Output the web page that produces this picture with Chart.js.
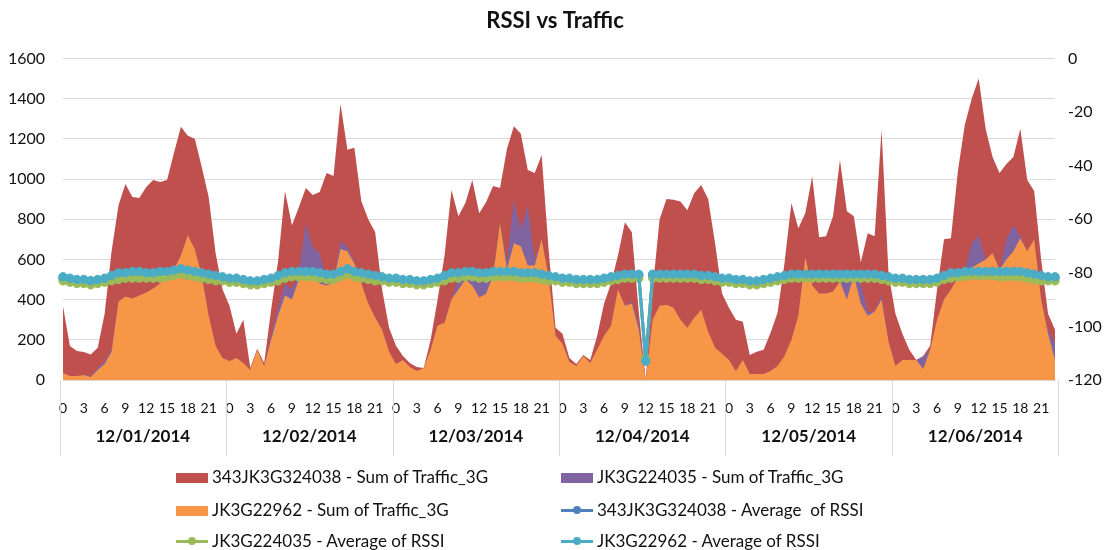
<!DOCTYPE html>
<html>
<head>
<meta charset="utf-8">
<title>RSSI vs Traffic</title>
<script src="https://cdn.jsdelivr.net/npm/chart.js@4.4.1/dist/chart.umd.min.js"></script>
<style>
    html, body { margin: 0; padding: 0; background: #fff; }
    #wrap { position: relative; width: 1110px; height: 550px; overflow: hidden; font-family: Lato, "Open Sans", sans-serif; }
    #rssiChart { position: absolute; left: 0; top: 0; }
    .lg-item { position: absolute; height: 30px; line-height: 30px; font-size: 17px; color: #111; white-space: nowrap; }
    .lg-box { display: inline-block; width: 32px; height: 10px; vertical-align: middle; margin-right: 4px; position: relative; top: -1px; }
    .lg-line { display: inline-block; width: 32px; height: 3px; vertical-align: middle; margin-right: 4px; position: relative; top: -1px; }
    .lg-line span { position: absolute; left: 12px; top: -3px; width: 8px; height: 8px; border-radius: 50%; }
</style>
</head>
<body>
<div id="wrap">
    <canvas id="rssiChart" width="1110" height="550"></canvas>
    <div id="legend"></div>
</div>
<script>
// Category axis
var dayLabels = ['12/01/2014', '12/02/2014', '12/03/2014', '12/04/2014', '12/05/2014', '12/06/2014'];
var hourLabels = [0, 1, 2, 3, 4, 5, 6, 7, 8, 9, 10, 11, 12, 13, 14, 15, 16, 17, 18, 19, 20, 21, 22, 23];

// Sum of Traffic_3G, one value per hour (6 days x 24 hours)
var traffic343JK3G324038 = [
    332, 149, 124, 114, 107, 100, 235, 490, 480, 560, 505, 485, 525, 540, 505, 480, 580, 640, 495, 550, 540, 590, 460, 340,
    275, 120, 215, 10, 5, 15, 130, 230, 460, 320, 330, 175, 260, 305, 530, 515, 685, 485, 565, 410, 420, 425, 200, 120,
    90, 20, 20, 20, 0, 50, 130, 335, 545, 305, 340, 455, 310, 375, 435, 175, 560, 367, 475, 180, 430, 420, 140, 40,
    50, 20, 10, 5, 15, 70, 160, 210, 170, 415, 345, 60, 0, 150, 430, 525, 537, 588, 585, 620, 620, 660, 520, 300,
    260, 255, 190, 95, 110, 120, 190, 265, 460, 680, 435, 220, 542, 280, 285, 375, 605, 350, 295, 105, 390, 375, 825, 340,
    260, 130, 50, 0, 5, 20, 150, 300, 255, 530, 730, 720, 780, 650, 480, 480, 375, 340, 535, 355, 240, 200, 80, 70
];
var trafficJK3G224035 = [
    0, 0, 0, 0, 5, 10, 15, 10, 0, 0, 0, 0, 0, 0, 0, 0, 0, 0, 0, 0, 0, 0, 0, 0,
    0, 0, 0, 0, 0, 0, 20, 40, 60, 50, 30, 260, 150, 150, 30, 10, 40, 20, 10, 0, 0, 0, 0, 0,
    0, 0, 0, 0, 0, 0, 0, 0, 0, 60, 40, 70, 110, 80, 10, 0, 40, 215, 85, 295, 30, 0, 0, 0,
    0, 0, 0, 0, 0, 0, 0, 0, 0, 0, 10, 30, 0, 0, 0, 0, 0, 0, 0, 0, 0, 0, 0, 0,
    0, 0, 0, 0, 0, 0, 0, 0, 0, 0, 0, 0, 0, 0, 0, 0, 0, 90, 0, 100, 20, 0, 20, 0,
    0, 0, 0, 0, 60, 0, 0, 0, 0, 0, 0, 120, 140, 0, 0, 0, 100, 130, 10, 0, 0, 0, 20, 80
];
var trafficJK3G22962 = [
    35, 20, 20, 25, 15, 50, 80, 140, 390, 415, 405, 420, 435, 455, 480, 515, 550, 620, 720, 650, 520, 320, 170, 110,
    95, 110, 85, 50, 150, 70, 200, 320, 420, 400, 500, 520, 510, 480, 470, 490, 650, 640, 580, 480, 380, 310, 250, 140,
    80, 100, 65, 45, 60, 150, 270, 285, 400, 450, 500, 470, 410, 430, 520, 780, 550, 680, 665, 570, 570, 700, 510, 220,
    180, 90, 70, 120, 85, 150, 220, 270, 450, 370, 380, 250, 0, 300, 370, 375, 360, 300, 260, 310, 350, 240, 160, 130,
    100, 45, 100, 30, 30, 30, 45, 70, 120, 200, 320, 610, 470, 430, 430, 440, 490, 400, 520, 380, 320, 340, 400, 190,
    70, 100, 100, 100, 55, 150, 300, 400, 450, 510, 540, 560, 580, 600, 630, 550, 600, 640, 705, 640, 700, 400, 230, 100
];

// Average of RSSI
var rssi343JK3G324038 = [
    -82, -82.5, -83, -83, -83, -83, -82.5, -81.5, -80.5, -80.5, -80, -80, -80.5, -80.5, -80, -80, -79.5, -79, -79.5, -80, -80.5, -81, -81.5, -82,
    -82.5, -82.5, -83, -83.5, -83.5, -83, -82.5, -81.5, -80.5, -80, -80, -80, -80, -80.5, -81, -81, -80, -79, -80, -80.5, -81, -81.5, -82, -82.5,
    -82.5, -83, -83, -83.5, -83.5, -83, -82.5, -81.5, -80.5, -80.5, -80, -80, -80.5, -80.5, -80, -80, -80, -80, -80.5, -80.5, -80.5, -81, -81.5, -82,
    -82.5, -82.5, -83, -83, -83, -83, -82.5, -82, -81.5, -81, -81, -81, -112, -81, -81, -81, -81, -81, -81, -81, -81.5, -81.5, -82, -82.5,
    -82.5, -83, -83, -83.5, -83.5, -83, -82.5, -82, -81.5, -81, -81, -81, -81, -81, -81, -81, -81, -81, -81, -81, -81, -81, -81.5, -82,
    -82.5, -82.5, -83, -83, -83, -83, -82.5, -81.5, -80.5, -80.5, -80, -80, -80, -80, -80, -80, -80, -80, -80, -80.5, -81, -81.5, -82, -82
];
var rssiJK3G224035 = [
    -83, -83.5, -84, -84, -84.5, -84, -83.5, -83, -82.5, -82, -82, -82, -82, -82, -82, -81.5, -81, -80.5, -81, -81.5, -82, -82.5, -83, -83,
    -83.5, -83.5, -84, -84.5, -84.5, -84, -83.5, -83, -82, -81.5, -81.5, -81.5, -81.5, -82, -82.5, -82.5, -81.5, -80.5, -81.5, -82, -82.5, -83, -83, -83.5,
    -83.5, -84, -84, -84.5, -84.5, -84, -83.5, -83, -82, -82, -81.5, -81.5, -82, -82, -81.5, -81.5, -81.5, -81.5, -82, -82, -82, -82.5, -83, -83,
    -83.5, -83.5, -84, -84, -84, -84, -83.5, -83, -82.5, -82, -82, -82, -112, -82, -82, -82, -82, -82, -82, -82, -82.5, -82.5, -83, -83.5,
    -83.5, -84, -84, -84.5, -84.5, -84, -83.5, -83, -82.5, -82, -82, -82, -82, -82, -82, -82, -82, -82, -82, -82, -82, -82, -82.5, -83,
    -83.5, -83.5, -84, -84, -84, -84, -83.5, -82.5, -82, -81.5, -81.5, -81, -81, -81, -81, -81.5, -81.5, -81.5, -81.5, -82, -82.5, -83, -83, -83
];
var rssiJK3G22962 = [
    -81.5, -82, -82.5, -82.5, -83, -82.5, -82, -81, -80, -80, -79.5, -79.5, -80, -80, -79.5, -79.5, -79, -78.5, -79, -79.5, -80, -80.5, -81, -81.5,
    -82, -82, -82.5, -83, -83, -82.5, -82, -81, -80, -79.5, -79.5, -79.5, -79.5, -80, -80.5, -80.5, -79.5, -78.5, -79.5, -80, -80.5, -81, -81.5, -82,
    -82, -82.5, -82.5, -83, -83, -82.5, -82, -81, -80, -80, -79.5, -79.5, -80, -80, -79.5, -79.5, -79.5, -79.5, -80, -80, -80, -80.5, -81, -81.5,
    -82, -82, -82.5, -82.5, -82.5, -82.5, -82, -81.5, -81, -80.5, -80.5, -80.5, -113, -80.5, -80.5, -80.5, -80.5, -80.5, -80.5, -80.5, -81, -81, -81.5, -82,
    -82, -82.5, -82.5, -83, -83, -82.5, -82, -81.5, -81, -80.5, -80.5, -80.5, -80.5, -80.5, -80.5, -80.5, -80.5, -80.5, -80.5, -80.5, -80.5, -80.5, -81, -81.5,
    -82, -82, -82.5, -82.5, -82.5, -82.5, -82, -81, -80, -80, -79.5, -79.5, -79.5, -79.5, -79.5, -79.5, -79.5, -79.5, -79.5, -80, -80.5, -81, -81.5, -81.5
];

// Colours (Office palette)
var C_RED = '#c0504d', C_PURPLE = '#8064a2', C_ORANGE = '#f79646';
var C_BLUE = '#4f81bd', C_GREEN = '#9bbb59', C_CYAN = '#4bacc6';
var FONT = 'Lato';
var TEXT = '#111';

// one category per hour, days one after another
var categories = [];
dayLabels.forEach(function () {
    hourLabels.forEach(function (h) { categories.push(h); });
});

function areaSet(label, data, color) {
    return {
        type: 'line', label: label, data: data, yAxisID: 'y',
        fill: 'origin', backgroundColor: color, borderColor: color,
        borderWidth: 0, pointRadius: 0, tension: 0
    };
}
function rssiSet(label, data, color) {
    return {
        type: 'line', label: label, data: data, yAxisID: 'y1',
        fill: false, borderColor: color, backgroundColor: color,
        borderWidth: 3, pointRadius: 4.2, pointBorderWidth: 1,
        pointBackgroundColor: color, pointBorderColor: color, tension: 0
    };
}

// plain numbers on the value axes (no thousands separator)
function plainTick(value) { return String(value); }

// Draw the day row and its separators under the hour ticks
var dayAxisPlugin = {
    id: 'dayAxis',
    afterDraw: function (chart) {
        var ctx = chart.ctx;
        var xs = chart.scales.x;
        var bottom = chart.chartArea.bottom;
        var step = xs.getPixelForValue(1) - xs.getPixelForValue(0);
        ctx.save();
        ctx.strokeStyle = '#d9d9d9';
        ctx.lineWidth = 1;
        for (var d = 0; d <= dayLabels.length; d++) {
            var sx = Math.round(xs.getPixelForValue(d * 24) - step / 2) + 0.5;
            ctx.beginPath();
            ctx.moveTo(sx, bottom);
            ctx.lineTo(sx, bottom + 76);
            ctx.stroke();
        }
        ctx.fillStyle = TEXT;
        ctx.font = 'bold 17px ' + FONT;
        ctx.textAlign = 'center';
        ctx.textBaseline = 'middle';
        dayLabels.forEach(function (lbl, d) {
            var cx = (xs.getPixelForValue(d * 24) + xs.getPixelForValue(d * 24 + 23)) / 2;
            ctx.fillText(lbl, cx, bottom + 57);
        });
        ctx.restore();
    }
};

var ctx = document.getElementById('rssiChart').getContext('2d');
var rssiChart = new Chart(ctx, {
    type: 'line',
    data: {
        labels: categories,
        // lines first so they sit on top; orange is the bottom of the stack
        datasets: [
            rssiSet('JK3G22962 - Average of RSSI', rssiJK3G22962, C_CYAN),
            rssiSet('JK3G224035 - Average of RSSI', rssiJK3G224035, C_GREEN),
            rssiSet('343JK3G324038 - Average  of RSSI', rssi343JK3G324038, C_BLUE),
            areaSet('JK3G22962 - Sum of Traffic_3G', trafficJK3G22962, C_ORANGE),
            areaSet('JK3G224035 - Sum of Traffic_3G', trafficJK3G224035, C_PURPLE),
            areaSet('343JK3G324038 - Sum of Traffic_3G', traffic343JK3G324038, C_RED)
        ]
    },
    options: {
        responsive: false,
        animation: false,
        layout: { padding: { left: 0, right: 0, top: 0, bottom: 90 } },
        plugins: {
            legend: { display: false },
            tooltip: { enabled: false },
            title: {
                display: true,
                text: 'RSSI vs Traffic',
                color: TEXT,
                font: { family: FONT, size: 22, weight: 'bold' },
                padding: { top: 8, bottom: 24 }
            }
        },
        scales: {
            x: {
                type: 'category',
                grid: { display: false },
                border: { display: true, color: '#d9d9d9' },
                ticks: {
                    autoSkip: false,
                    maxRotation: 0,
                    padding: 12,
                    color: TEXT,
                    font: { family: FONT, size: 14 },
                    callback: function (value, index) {
                        return index % 3 === 0 ? this.getLabelForValue(value) : '';
                    }
                },
                afterFit: function (scale) { scale.height = 80; }
            },
            y: {
                position: 'left',
                stacked: true,
                min: 0,
                max: 1600,
                grid: { color: '#d9d9d9', drawTicks: false },
                border: { display: false },
                ticks: { stepSize: 200, padding: 18, color: TEXT, font: { family: FONT, size: 16 }, callback: plainTick },
                afterFit: function (scale) { scale.width = 63; }
            },
            y1: {
                position: 'right',
                min: -120,
                max: 0,
                grid: { display: false, drawTicks: false },
                border: { display: false },
                ticks: { stepSize: 20, padding: 13, color: TEXT, font: { family: FONT, size: 16 }, callback: plainTick },
                afterFit: function (scale) { scale.width = 55; }
            }
        }
    },
    plugins: [dayAxisPlugin]
});

// Legend in two columns, in the original order
var legendItems = [
    { text: '343JK3G324038 - Sum of Traffic_3G', color: C_RED, kind: 'box', left: 176, top: 462 },
    { text: 'JK3G224035 - Sum of Traffic_3G', color: C_PURPLE, kind: 'box', left: 561, top: 462 },
    { text: 'JK3G22962 - Sum of Traffic_3G', color: C_ORANGE, kind: 'box', left: 176, top: 495 },
    { text: '343JK3G324038 - Average  of RSSI', color: C_BLUE, kind: 'line', left: 561, top: 495 },
    { text: 'JK3G224035 - Average of RSSI', color: C_GREEN, kind: 'line', left: 176, top: 526 },
    { text: 'JK3G22962 - Average of RSSI', color: C_CYAN, kind: 'line', left: 561, top: 526 }
];
var legendEl = document.getElementById('legend');
legendItems.forEach(function (it) {
    var item = document.createElement('div');
    item.className = 'lg-item';
    item.style.left = it.left + 'px';
    item.style.top = it.top + 'px';
    var mark = document.createElement('span');
    if (it.kind === 'box') {
        mark.className = 'lg-box';
        mark.style.background = it.color;
    } else {
        mark.className = 'lg-line';
        mark.style.background = it.color;
        var dot = document.createElement('span');
        dot.style.background = it.color;
        mark.appendChild(dot);
    }
    item.appendChild(mark);
    item.appendChild(document.createTextNode(it.text.replace(/  /g, '\u00a0 ')));
    legendEl.appendChild(item);
});
</script>
</body>
</html>
